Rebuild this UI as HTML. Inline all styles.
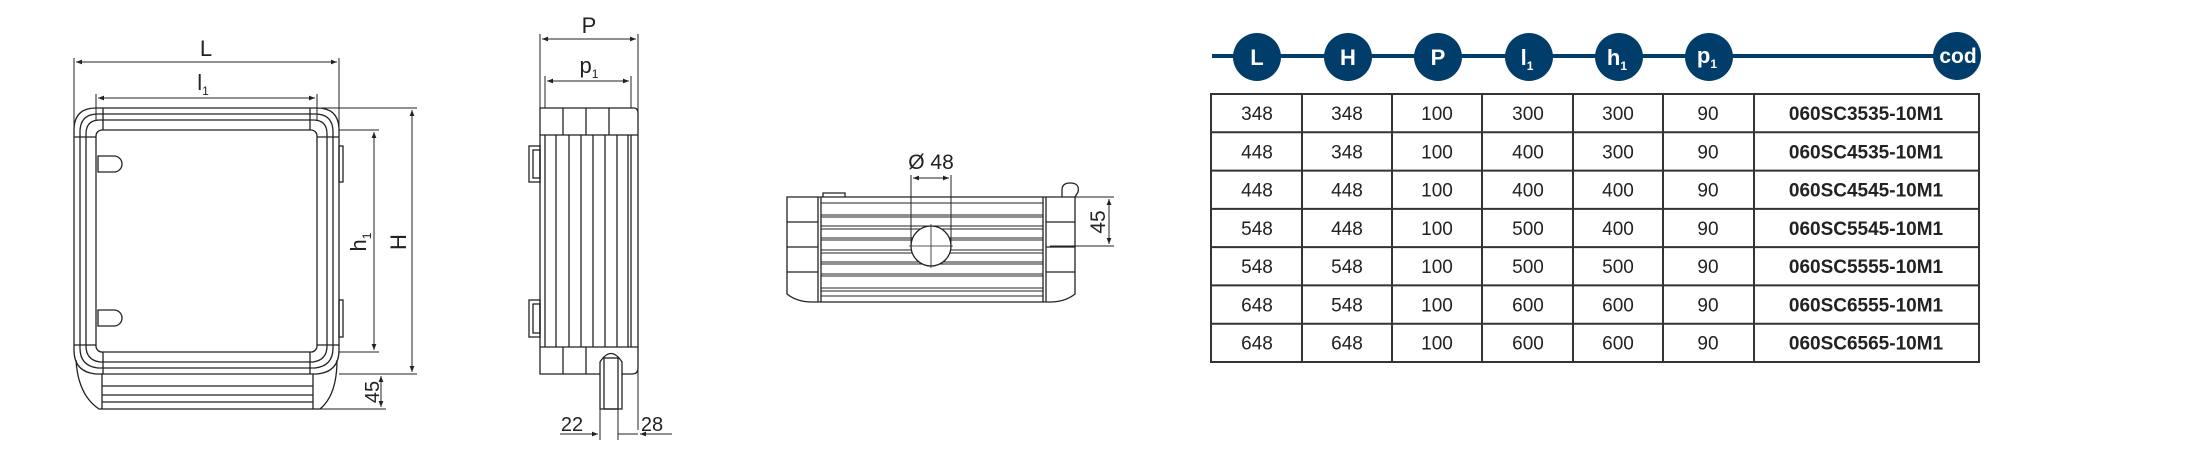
<!DOCTYPE html>
<html><head><meta charset="utf-8"><style>
html,body{margin:0;padding:0;background:#fff;}
svg{display:block;}
text{font-family:"Liberation Sans",sans-serif;}
</style></head><body>
<svg width="2190" height="451" viewBox="0 0 2190 451" xmlns="http://www.w3.org/2000/svg">
<defs>
<marker id="a" viewBox="0 0 10 10" refX="10" refY="5" markerWidth="9" markerHeight="6" orient="auto-start-reverse"><path d="M0,1 L10,5 L0,9 z" fill="#222"/></marker>
</defs>
<g stroke="#222" stroke-width="1.3" fill="none">
<!-- FRONT VIEW -->
<path d="M96,108 H317 Q339,108 339,130 V350 Q339,372 317,374 H96 Q74,372 74,350 V130 Q74,108 96,108 Z"/>
<path d="M98,114 H315 Q333,114 333,132 V348 Q333,366 315,368 H98 Q80,366 80,348 V132 Q80,114 98,114 Z"/>
<path d="M100,120 H313 Q327,120 327,134 V346 Q327,360 313,362 H100 Q86,360 86,346 V134 Q86,120 100,120 Z"/>
<rect x="96" y="130" width="221" height="222" rx="6"/>
<line x1="103" y1="108" x2="103" y2="130"/><line x1="310" y1="108" x2="310" y2="130"/>
<line x1="103" y1="352" x2="103" y2="374"/><line x1="310" y1="352" x2="310" y2="374"/>
<line x1="74" y1="137" x2="96" y2="137"/><line x1="317" y1="137" x2="339" y2="137"/>
<line x1="74" y1="345" x2="96" y2="345"/><line x1="317" y1="345" x2="339" y2="345"/>
<path d="M98,156 H114 A6,6 0 0 1 114,172 H98 Z"/>
<path d="M98,310 H114 A6,6 0 0 1 114,326 H98 Z"/>
<rect x="339" y="146" width="4" height="36"/><rect x="339" y="300" width="4" height="37"/>
<!-- feet -->
<path d="M76,360 Q78,395 99,409 H320 Q337,395 337,360"/>
<line x1="102" y1="374" x2="102" y2="409"/><line x1="313" y1="374" x2="313" y2="409"/>
<line x1="102" y1="386" x2="313" y2="386"/><line x1="102" y1="395" x2="313" y2="395"/><line x1="102" y1="402" x2="313" y2="402"/>
<!-- dims front -->
<line x1="74" y1="58" x2="74" y2="130" stroke-width="1"/><line x1="339" y1="58" x2="339" y2="130" stroke-width="1"/>
<line x1="76" y1="62" x2="337" y2="62" marker-start="url(#a)" marker-end="url(#a)" stroke-width="1"/>
<line x1="96" y1="94" x2="96" y2="120" stroke-width="1"/><line x1="317" y1="94" x2="317" y2="120" stroke-width="1"/>
<line x1="98" y1="98" x2="315" y2="98" marker-start="url(#a)" marker-end="url(#a)" stroke-width="1"/>
<line x1="339" y1="130" x2="379" y2="130" stroke-width="1"/><line x1="339" y1="352" x2="379" y2="352" stroke-width="1"/>
<line x1="374" y1="132" x2="374" y2="350" marker-start="url(#a)" marker-end="url(#a)" stroke-width="1"/>
<line x1="321" y1="108" x2="417" y2="108" stroke-width="1"/><line x1="339" y1="374" x2="417" y2="374" stroke-width="1"/>
<line x1="412" y1="110" x2="412" y2="372" marker-start="url(#a)" marker-end="url(#a)" stroke-width="1"/>
<line x1="320" y1="409" x2="386" y2="409" stroke-width="1"/>
<line x1="381" y1="376" x2="381" y2="407" marker-start="url(#a)" marker-end="url(#a)" stroke-width="1"/>
<!-- SIDE VIEW -->
<path d="M540,108 H634 Q638,108 638,114 V368 Q638,374 632,374 H540 Z"/>
<line x1="540" y1="135" x2="638" y2="135"/><line x1="540" y1="347" x2="638" y2="347"/>
<line x1="563" y1="108" x2="563" y2="135"/><line x1="586" y1="108" x2="586" y2="135"/><line x1="609" y1="108" x2="609" y2="135"/>
<line x1="563" y1="347" x2="563" y2="374"/><line x1="586" y1="347" x2="586" y2="374"/>
<line x1="545" y1="135" x2="545" y2="347"/>
<line x1="556" y1="135" x2="556" y2="347"/><line x1="569" y1="135" x2="569" y2="347"/><line x1="581" y1="135" x2="581" y2="347"/>
<line x1="593" y1="135" x2="593" y2="347"/><line x1="605" y1="135" x2="605" y2="347"/><line x1="617" y1="135" x2="617" y2="347"/><line x1="628" y1="135" x2="628" y2="347"/><line x1="631" y1="135" x2="631" y2="347"/>
<rect x="529" y="146" width="11" height="36"/><rect x="533" y="150" width="7" height="28"/>
<rect x="529" y="300" width="11" height="37"/><rect x="533" y="304" width="7" height="29"/>
<path d="M600,409 V362 Q611,345 622,362 V409 Z" fill="#fff"/>
<rect x="604" y="358" width="14" height="51"/>
<!-- side dims -->
<line x1="540" y1="34" x2="540" y2="108" stroke-width="1"/><line x1="638" y1="34" x2="638" y2="430" stroke-width="1"/>
<line x1="542" y1="39" x2="636" y2="39" marker-start="url(#a)" marker-end="url(#a)" stroke-width="1"/>
<line x1="545" y1="76" x2="545" y2="108" stroke-width="1"/><line x1="631" y1="76" x2="631" y2="108" stroke-width="1"/>
<line x1="547" y1="81" x2="629" y2="81" marker-start="url(#a)" marker-end="url(#a)" stroke-width="1"/>
<line x1="600" y1="409" x2="600" y2="440" stroke-width="1"/><line x1="618" y1="409" x2="618" y2="440" stroke-width="1"/>
<line x1="560" y1="434" x2="598" y2="434" marker-end="url(#a)" stroke-width="1"/>
<line x1="672" y1="434" x2="640" y2="434" marker-end="url(#a)" stroke-width="1"/>
<line x1="618" y1="434" x2="638" y2="434" stroke-width="1"/>
<!-- MIDDLE VIEW -->
<path d="M787,197 H1075 V294 Q1065,302 1050,302 H812 Q797,302 787,294 Z"/>
<line x1="818" y1="197" x2="818" y2="302"/><line x1="821" y1="197" x2="821" y2="302"/>
<line x1="1043" y1="197" x2="1043" y2="302"/><line x1="1046" y1="197" x2="1046" y2="302"/>
<line x1="787" y1="222" x2="818" y2="222"/><line x1="787" y1="247" x2="818" y2="247"/><line x1="787" y1="272" x2="818" y2="272"/>
<line x1="1046" y1="222" x2="1075" y2="222"/><line x1="1046" y1="247" x2="1075" y2="247"/><line x1="1046" y1="272" x2="1075" y2="272"/>
<g stroke-width="1">
<line x1="821" y1="203" x2="1043" y2="203"/><line x1="821" y1="215" x2="1043" y2="215"/><line x1="821" y1="217" x2="1043" y2="217"/>
<line x1="821" y1="226" x2="1043" y2="226"/><line x1="821" y1="229" x2="1043" y2="229"/><line x1="821" y1="238" x2="1043" y2="238"/>
<line x1="821" y1="240" x2="1043" y2="240"/><line x1="821" y1="250" x2="1043" y2="250"/><line x1="821" y1="253" x2="1043" y2="253"/>
<line x1="821" y1="262" x2="1043" y2="262"/><line x1="821" y1="264" x2="1043" y2="264"/><line x1="821" y1="274" x2="1043" y2="274"/>
<line x1="821" y1="276" x2="1043" y2="276"/><line x1="821" y1="288" x2="1043" y2="288"/><line x1="821" y1="291" x2="1043" y2="291"/><line x1="821" y1="296" x2="1043" y2="296"/>
</g>
<circle cx="931" cy="246" r="20" fill="#fff"/>
<line x1="931" y1="224" x2="931" y2="268" stroke-width="0.8"/><line x1="909" y1="246" x2="953" y2="246" stroke-width="0.8"/>
<path d="M823,197 V193 H845 V197"/>
<path d="M1062,197 V190 Q1062,183 1070,183 Q1080,183 1078,192 L1075,197"/>
<line x1="911" y1="175" x2="911" y2="246" stroke-width="1"/><line x1="951" y1="175" x2="951" y2="246" stroke-width="1"/>
<line x1="913" y1="178" x2="949" y2="178" marker-start="url(#a)" marker-end="url(#a)" stroke-width="1"/>
<line x1="1075" y1="197" x2="1114" y2="197" stroke-width="1"/><line x1="1050" y1="246" x2="1114" y2="246" stroke-width="1"/>
<line x1="1109" y1="199" x2="1109" y2="244" marker-start="url(#a)" marker-end="url(#a)" stroke-width="1"/>
</g>
<g fill="#222" font-size="22" text-anchor="middle">
<text x="206" y="56">L</text>
<text x="203" y="90">l<tspan font-size="12" dy="5">1</tspan></text>
<text x="589" y="33">P</text>
<text x="589" y="73">p<tspan font-size="12" dy="5">1</tspan></text>
<text transform="translate(366,242) rotate(-90)">h<tspan font-size="12" dy="5">1</tspan></text>
<text transform="translate(406,242) rotate(-90)">H</text>
<text transform="translate(379,392) rotate(-90)" font-size="20">45</text>
<text x="572" y="431" font-size="20">22</text>
<text x="652" y="431" font-size="20">28</text>
<text x="931" y="169" font-size="21">Ø 48</text>
<text transform="translate(1105,222) rotate(-90)" font-size="21">45</text>
</g>
<!-- TABLE HEADER -->
<line x1="1212" y1="56" x2="1957" y2="56" stroke="#003d6b" stroke-width="4"/>
<g fill="#003d6b">
<circle cx="1257" cy="57" r="24"/><circle cx="1348" cy="57" r="24"/><circle cx="1438" cy="57" r="24"/>
<circle cx="1529" cy="57" r="24"/><circle cx="1619" cy="57" r="24"/><circle cx="1709" cy="57" r="24"/>
<circle cx="1957" cy="56" r="24"/>
</g>
<g fill="#fff" font-size="22" font-weight="bold" text-anchor="middle">
<text x="1257" y="65">L</text><text x="1348" y="65">H</text><text x="1438" y="65">P</text>
<text x="1527" y="65">l<tspan font-size="12" dy="5">1</tspan></text>
<text x="1617" y="65">h<tspan font-size="12" dy="5">1</tspan></text>
<text x="1707" y="63">p<tspan font-size="12" dy="5">1</tspan></text>
<text x="1958" y="63" font-size="21">cod</text>
</g>
<!-- TABLE -->
<g stroke="#333" stroke-width="2" fill="none">
<rect x="1211" y="94" width="768" height="268"/>
<line x1="1211" y1="132.3" x2="1979" y2="132.3"/><line x1="1211" y1="170.6" x2="1979" y2="170.6"/>
<line x1="1211" y1="208.9" x2="1979" y2="208.9"/><line x1="1211" y1="247.1" x2="1979" y2="247.1"/>
<line x1="1211" y1="285.4" x2="1979" y2="285.4"/><line x1="1211" y1="323.7" x2="1979" y2="323.7"/>
<line x1="1302" y1="94" x2="1302" y2="362"/><line x1="1392" y1="94" x2="1392" y2="362"/>
<line x1="1482" y1="94" x2="1482" y2="362"/><line x1="1573" y1="94" x2="1573" y2="362"/>
<line x1="1663" y1="94" x2="1663" y2="362"/><line x1="1754" y1="94" x2="1754" y2="362"/>
</g>
<g fill="#222" font-size="19" text-anchor="middle">
<g transform="translate(0,120)"><text x="1257">348</text><text x="1347">348</text><text x="1437">100</text><text x="1528">300</text><text x="1618">300</text><text x="1708">90</text><text x="1866" font-weight="bold">060SC3535-10M1</text></g>
<g transform="translate(0,158.3)"><text x="1257">448</text><text x="1347">348</text><text x="1437">100</text><text x="1528">400</text><text x="1618">300</text><text x="1708">90</text><text x="1866" font-weight="bold">060SC4535-10M1</text></g>
<g transform="translate(0,196.6)"><text x="1257">448</text><text x="1347">448</text><text x="1437">100</text><text x="1528">400</text><text x="1618">400</text><text x="1708">90</text><text x="1866" font-weight="bold">060SC4545-10M1</text></g>
<g transform="translate(0,234.9)"><text x="1257">548</text><text x="1347">448</text><text x="1437">100</text><text x="1528">500</text><text x="1618">400</text><text x="1708">90</text><text x="1866" font-weight="bold">060SC5545-10M1</text></g>
<g transform="translate(0,273.1)"><text x="1257">548</text><text x="1347">548</text><text x="1437">100</text><text x="1528">500</text><text x="1618">500</text><text x="1708">90</text><text x="1866" font-weight="bold">060SC5555-10M1</text></g>
<g transform="translate(0,311.4)"><text x="1257">648</text><text x="1347">548</text><text x="1437">100</text><text x="1528">600</text><text x="1618">600</text><text x="1708">90</text><text x="1866" font-weight="bold">060SC6555-10M1</text></g>
<g transform="translate(0,349.7)"><text x="1257">648</text><text x="1347">648</text><text x="1437">100</text><text x="1528">600</text><text x="1618">600</text><text x="1708">90</text><text x="1866" font-weight="bold">060SC6565-10M1</text></g>
</g>
</svg>
</body></html>
